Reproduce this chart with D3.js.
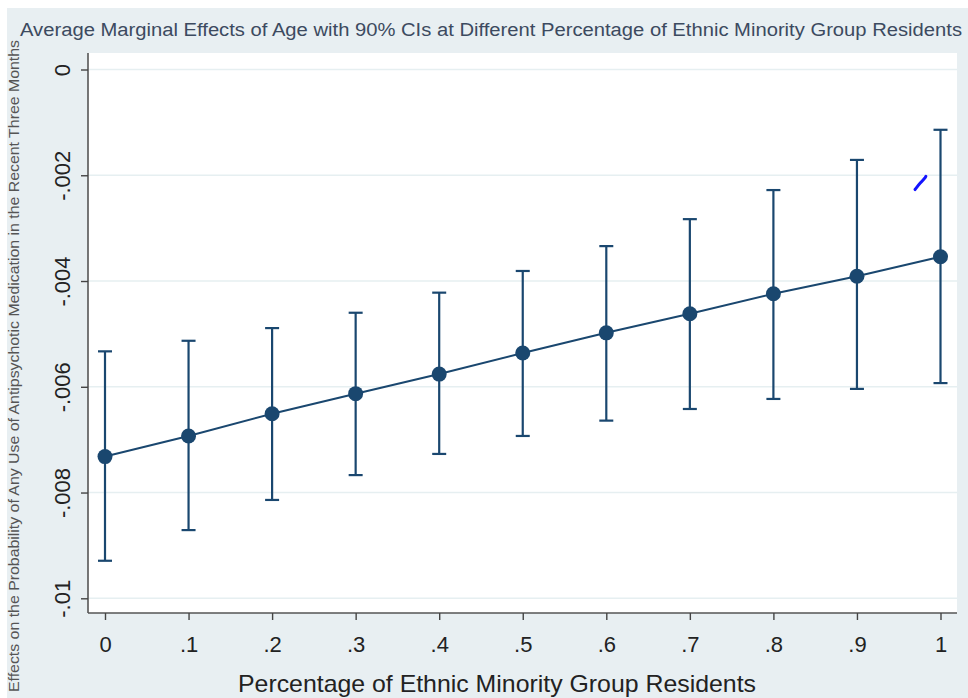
<!DOCTYPE html>
<html><head><meta charset="utf-8">
<script src="https://cdn.jsdelivr.net/npm/d3@7"></script>
<style>body{margin:0;background:#fff;font-family:"Liberation Sans",Arial,sans-serif}</style>
</head><body><svg id="c" width="968" height="698"></svg>
<script>
const xValues = [0, 0.1, 0.2, 0.3, 0.4, 0.5, 0.6, 0.7, 0.8, 0.9, 1];
const margins = [-0.00732, -0.00693, -0.00651, -0.00613, -0.00576, -0.00536, -0.00498, -0.00462, -0.00424, -0.00391, -0.00354];
const ciUpper = [-0.00533, -0.00513, -0.00489, -0.00460, -0.00422, -0.00381, -0.00334, -0.00283, -0.00228, -0.00171, -0.00114];
const ciLower = [-0.00929, -0.00871, -0.00814, -0.00767, -0.00727, -0.00693, -0.00664, -0.00642, -0.00623, -0.00604, -0.00593];
const xTicks = [0, 0.1, 0.2, 0.3, 0.4, 0.5, 0.6, 0.7, 0.8, 0.9, 1];
const xTickLabels = ["0", ".1", ".2", ".3", ".4", ".5", ".6", ".7", ".8", ".9", "1"];
const yTicks = [0, -0.002, -0.004, -0.006, -0.008, -0.01];
const yTickLabels = ["0", "-.002", "-.004", "-.006", "-.008", "-.01"];
const title = "Average Marginal Effects of Age with 90% CIs at Different Percentage of Ethnic Minority Group Residents";
const xTitle = "Percentage of Ethnic Minority Group Residents";
const yTitle = "Effects on the Probability of Any Use of Antipsychotic Medication in the Recent Three Months";

const svg = d3.select("#c");
const navy = "#1a476f";
const plot = {left: 88, right: 957, top: 53, bottom: 613};

svg.append("rect").attr("x", 7).attr("y", 8).attr("width", 961).attr("height", 690).attr("fill", "#e8eff2");
svg.append("rect").attr("x", plot.left).attr("y", plot.top).attr("width", plot.right - plot.left).attr("height", plot.bottom - plot.top).attr("fill", "#fff");

const x = d3.scaleLinear().domain([0, 1]).range([105, 940.5]);
const y = d3.scaleLinear().domain([0, -0.01]).range([69.5, 598.3]);

// gridlines
svg.append("g").selectAll("line").data(yTicks).join("line")
  .attr("x1", plot.left).attr("x2", plot.right)
  .attr("y1", d => y(d)).attr("y2", d => y(d))
  .attr("stroke", "#e6eff1").attr("stroke-width", 1.5);

// y axis
const yAxis = d3.axisLeft(y).tickValues(yTicks).tickFormat((d, i) => yTickLabels[i]).tickSize(7).tickSizeOuter(0);
const gy = svg.append("g").attr("transform", `translate(${plot.left},0)`).call(yAxis);
gy.select(".domain").attr("d", `M0,${plot.top}V${plot.bottom}`).attr("stroke", "#555").attr("stroke-width", 1.6);
gy.selectAll(".tick line").attr("stroke", "#444").attr("stroke-width", 1.4);
gy.selectAll(".tick text").attr("font-size", 22).attr("fill", "#222")
  .attr("font-family", "Liberation Sans, Arial, sans-serif")
  .attr("text-anchor", "middle").attr("x", 0).attr("y", 0).attr("dy", "0")
  .attr("transform", "translate(-26,0) rotate(-90)").attr("dominant-baseline", "central");

// x axis
const xAxis = d3.axisBottom(x).tickValues(xTicks).tickFormat((d, i) => xTickLabels[i]).tickSize(7).tickSizeOuter(0);
const gx = svg.append("g").attr("transform", `translate(0,${plot.bottom})`).call(xAxis);
gx.select(".domain").attr("d", `M${plot.left},0H${plot.right}`).attr("stroke", "#555").attr("stroke-width", 1.6);
gx.selectAll(".tick line").attr("stroke", "#444").attr("stroke-width", 1.4);
gx.selectAll(".tick text").attr("font-size", 22).attr("fill", "#222")
  .attr("font-family", "Liberation Sans, Arial, sans-serif").attr("y", 23).attr("dy", "0.71em");

// error bars
const data = xValues.map((v, i) => ({x: v, m: margins[i], lo: ciLower[i], hi: ciUpper[i]}));
const eb = svg.append("g").attr("stroke", navy).attr("stroke-width", 2.2).attr("fill", "none");
eb.selectAll("line.v").data(data).join("line").attr("class", "v")
  .attr("x1", d => x(d.x)).attr("x2", d => x(d.x)).attr("y1", d => y(d.hi)).attr("y2", d => y(d.lo));
eb.selectAll("line.t").data(data).join("line").attr("class", "t")
  .attr("x1", d => x(d.x) - 7).attr("x2", d => x(d.x) + 7).attr("y1", d => y(d.hi)).attr("y2", d => y(d.hi));
eb.selectAll("line.b").data(data).join("line").attr("class", "b")
  .attr("x1", d => x(d.x) - 7).attr("x2", d => x(d.x) + 7).attr("y1", d => y(d.lo)).attr("y2", d => y(d.lo));

// line
svg.append("path").datum(data)
  .attr("d", d3.line().x(d => x(d.x)).y(d => y(d.m)))
  .attr("fill", "none").attr("stroke", navy).attr("stroke-width", 2);

// markers
svg.append("g").selectAll("circle").data(data).join("circle")
  .attr("cx", d => x(d.x)).attr("cy", d => y(d.m)).attr("r", 7.5).attr("fill", navy);

// stray blue pen stroke
svg.append("path")
  .attr("d", d3.line().curve(d3.curveBasis)([[x(0.9695), y(-0.00227)], [x(0.976), y(-0.00214)], [x(0.981), y(-0.00206)], [x(0.9825), y(-0.00202)]]))
  .attr("fill", "none").attr("stroke", "#1414ff").attr("stroke-width", 3).attr("stroke-linecap", "round");

// titles
svg.append("text").attr("x", 20).attr("y", 36).attr("font-size", 18).attr("fill", "#3c4a60")
  .attr("textLength", 942).attr("lengthAdjust", "spacingAndGlyphs").text(title);

svg.append("text").attr("x", 497).attr("y", 692).attr("text-anchor", "middle").attr("font-size", 24).attr("fill", "#222")
  .attr("textLength", 518).attr("lengthAdjust", "spacingAndGlyphs").text(xTitle);

svg.append("text").attr("transform", "translate(19,366) rotate(-90)").attr("text-anchor", "middle")
  .attr("font-size", 14.5).attr("fill", "#555")
  .attr("textLength", 652).attr("lengthAdjust", "spacingAndGlyphs").text(yTitle);
</script></body></html>
